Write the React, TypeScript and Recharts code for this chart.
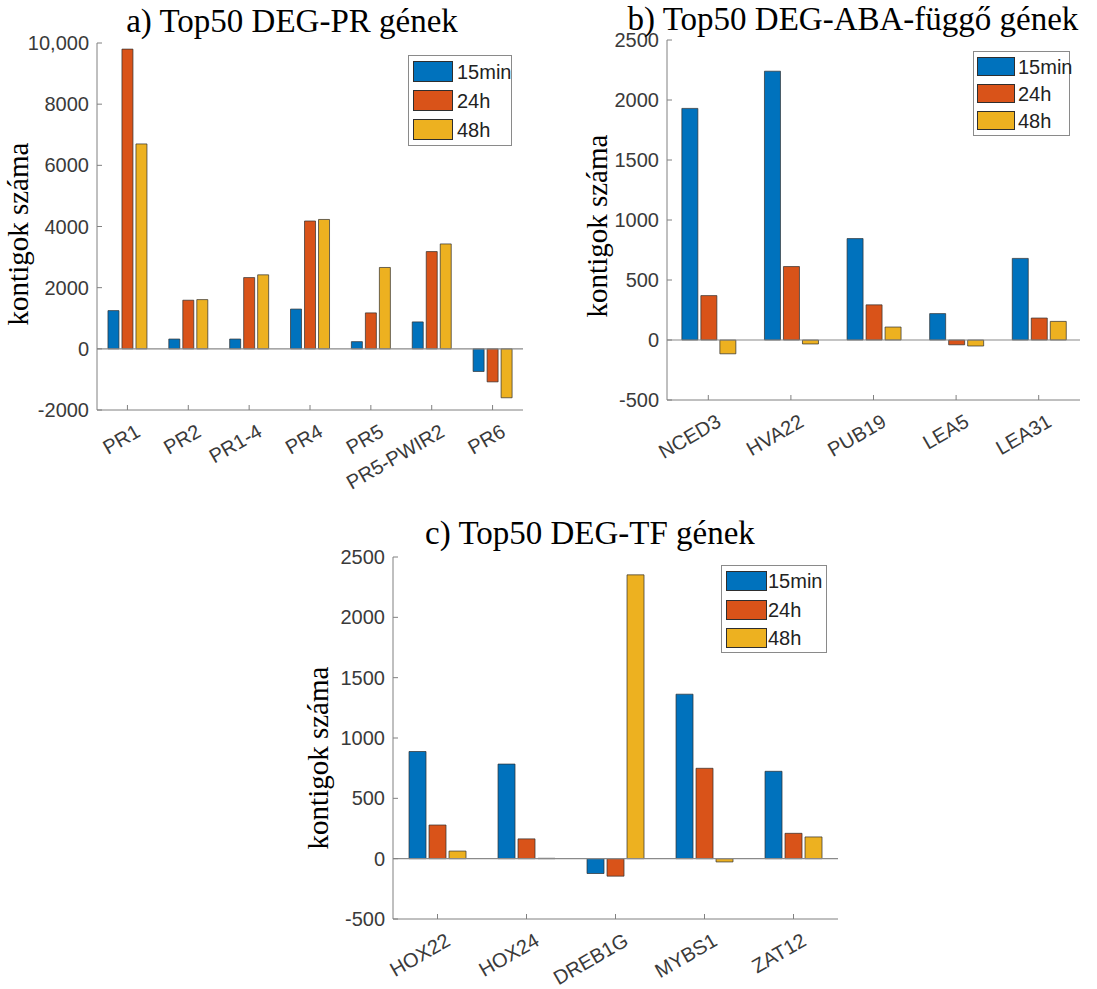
import React from "react";
import { BarChart, Bar, XAxis, YAxis, ReferenceLine } from "recharts";

// a) Top50 DEG-PR gének
const catsA = ["PR1", "PR2", "PR1-4", "PR4", "PR5", "PR5-PWIR2", "PR6"];
const a15 = [1250, 320, 320, 1300, 235, 880, -740];
const a24 = [9800, 1590, 2330, 4180, 1175, 3180, -1080];
const a48 = [6700, 1610, 2420, 4230, 2660, 3430, -1600];
const yTicksA = [-2000, 0, 2000, 4000, 6000, 8000, 10000];
const yLabelsA = ["-2000", "0", "2000", "4000", "6000", "8000", "10,000"];

// b) Top50 DEG-ABA-függő gének
const catsB = ["NCED3", "HVA22", "PUB19", "LEA5", "LEA31"];
const b15 = [1930, 2240, 845, 220, 680];
const b24 = [370, 612, 293, -40, 183];
const b48 = [-115, -33, 108, -50, 155];

// c) Top50 DEG-TF gének
const catsC = ["HOX22", "HOX24", "DREB1G", "MYBS1", "ZAT12"];
const c15 = [888, 784, -123, 1363, 724];
const c24 = [279, 164, -145, 749, 210];
const c48 = [63, 3, 2352, -27, 180];

const yTicksBC = [-500, 0, 500, 1000, 1500, 2000, 2500];
const yLabelsBC = ["-500", "0", "500", "1000", "1500", "2000", "2500"];

const seriesNames = ["15min", "24h", "48h"];
const colors = ["#0072BD", "#D95319", "#EDB120"];

const FRAME = "#808080";
const TICK_TEXT = "#3a3a3a";
const SANS = "'Liberation Sans', Arial, sans-serif";
const SERIF = "'Liberation Serif', 'Times New Roman', serif";

function rows(cats: string[], s1: number[], s2: number[], s3: number[]) {
    return cats.map((name, i) => ({ name, m15: s1[i], h24: s2[i], h48: s3[i] }));
}

const XTick = (props: any) => {
    const { x, y, payload } = props;
    return (
        <g transform={`translate(${x + 7},${y + 13}) rotate(-30)`}>
            <text textAnchor="end" dy="0.72em" fontSize={20} fill={TICK_TEXT} fontFamily={SANS}>
                {payload.value}
            </text>
        </g>
    );
};

type PanelProps = {
    left: number; top: number; width: number; height: number;
    yAxisWidth: number; marginTop: number; marginRight: number; xAxisHeight: number;
    data: any[]; ticks: number[]; labels: string[];
};

function Panel(p: PanelProps) {
    const domain = [p.ticks[0], p.ticks[p.ticks.length - 1]];
    const fmt = (v: number) => p.labels[p.ticks.indexOf(v)] ?? String(v);
    return (
        <div style={{ position: "absolute", left: p.left, top: p.top }}>
            <BarChart
                width={p.width}
                height={p.height}
                data={p.data}
                margin={{ top: p.marginTop, right: p.marginRight, left: 0, bottom: 0 }}
                barCategoryGap="18%"
                barGap={3}
            >
                <XAxis
                    dataKey="name"
                    height={p.xAxisHeight}
                    interval={0}
                    tick={<XTick />}
                    tickSize={-5}
                    tickMargin={5}
                    axisLine={{ stroke: FRAME }}
                    tickLine={{ stroke: FRAME }}
                />
                <XAxis
                    xAxisId="top"
                    orientation="top"
                    dataKey="name"
                    height={0}
                    interval={0}
                    tick={false}
                    tickSize={-5}
                    axisLine={{ stroke: FRAME }}
                    tickLine={{ stroke: FRAME }}
                />
                <YAxis
                    width={p.yAxisWidth}
                    domain={domain}
                    ticks={p.ticks}
                    interval={0}
                    allowDataOverflow
                    tickFormatter={fmt}
                    tickSize={-5}
                    tickMargin={13}
                    tick={{ fill: TICK_TEXT, fontSize: 20, fontFamily: SANS }}
                    axisLine={{ stroke: FRAME }}
                    tickLine={{ stroke: FRAME }}
                />
                <YAxis
                    yAxisId="r"
                    orientation="right"
                    width={0}
                    domain={domain}
                    ticks={p.ticks}
                    interval={0}
                    allowDataOverflow
                    tick={false}
                    tickSize={-5}
                    axisLine={{ stroke: FRAME }}
                    tickLine={{ stroke: FRAME }}
                />
                <ReferenceLine y={0} stroke="#8a8a8a" strokeWidth={1.2} />
                <Bar dataKey="m15" fill={colors[0]} stroke="#2e2e2e" strokeWidth={0.7} isAnimationActive={false} />
                <Bar dataKey="h24" fill={colors[1]} stroke="#2e2e2e" strokeWidth={0.7} isAnimationActive={false} />
                <Bar dataKey="h48" fill={colors[2]} stroke="#2e2e2e" strokeWidth={0.7} isAnimationActive={false} />
            </BarChart>
        </div>
    );
}

type LegendProps = {
    left: number; top: number; width: number; height: number;
    swX: number; swW: number; swH: number; rowTop: number; step: number; textX: number;
};

function BoxLegend(l: LegendProps) {
    return (
        <div style={{
            position: "absolute", left: l.left, top: l.top, width: l.width, height: l.height,
            border: "1.5px solid #8a8a8a", boxSizing: "border-box", background: "#fff",
        }}>
            {seriesNames.map((s, i) => (
                <React.Fragment key={s}>
                    <div style={{
                        position: "absolute", left: l.swX, top: l.rowTop + i * l.step,
                        width: l.swW, height: l.swH, background: colors[i],
                        border: "1px solid #2e2e2e", boxSizing: "border-box",
                    }} />
                    <div style={{
                        position: "absolute", left: l.textX, top: l.rowTop + i * l.step + l.swH / 2 - 12,
                        height: 24, lineHeight: "24px", fontSize: 20, fontFamily: SANS, color: "#222",
                    }}>{s}</div>
                </React.Fragment>
            ))}
        </div>
    );
}

function Title(props: { cx: number; top: number; text: string }) {
    return (
        <div style={{
            position: "absolute", left: props.cx - 300, width: 600, top: props.top, height: 38,
            textAlign: "center", fontFamily: SERIF, fontSize: 33, lineHeight: "38px", color: "#000",
            whiteSpace: "nowrap",
        }}>{props.text}</div>
    );
}

function YLabel(props: { cx: number; cy: number }) {
    return (
        <div style={{
            position: "absolute", left: props.cx - 150, top: props.cy - 16, width: 300, height: 32,
            lineHeight: "32px", textAlign: "center", transform: "rotate(-90deg)",
            fontFamily: SERIF, fontSize: 29, color: "#000", whiteSpace: "nowrap",
        }}>kontigok száma</div>
    );
}

export default function App() {
    return (
        <div style={{ position: "absolute", left: 0, top: 0, width: 1097, height: 989, background: "#fff", overflow: "hidden" }}>
            <Panel left={0} top={0} width={545} height={500} yAxisWidth={97} marginTop={43}
                marginRight={22} xAxisHeight={90} data={rows(catsA, a15, a24, a48)}
                ticks={yTicksA} labels={yLabelsA} />
            <Panel left={560} top={0} width={537} height={500} yAxisWidth={107} marginTop={40}
                marginRight={17} xAxisHeight={100} data={rows(catsB, b15, b24, b48)}
                ticks={yTicksBC} labels={yLabelsBC} />
            <Panel left={290} top={500} width={570} height={489} yAxisWidth={103} marginTop={57}
                marginRight={22} xAxisHeight={70} data={rows(catsC, c15, c24, c48)}
                ticks={yTicksBC} labels={yLabelsBC} />

            <Title cx={292} top={2} text="a) Top50 DEG-PR gének" />
            <Title cx={853} top={0} text="b) Top50 DEG-ABA-függő gének" />
            <Title cx={590} top={514} text="c) Top50 DEG-TF gének" />

            <YLabel cx={18} cy={234} />
            <YLabel cx={597} cy={226} />
            <YLabel cx={318} cy={758} />

            <BoxLegend left={408} top={55} width={104} height={91} swX={4} swW={40} swH={21} rowTop={5} step={29} textX={48} />
            <BoxLegend left={973} top={51} width={97} height={85} swX={3} swW={38} swH={19} rowTop={5} step={27} textX={44} />
            <BoxLegend left={721} top={565} width={106} height={88} swX={4} swW={41} swH={20} rowTop={5} step={28.5} textX={46} />
        </div>
    );
}
